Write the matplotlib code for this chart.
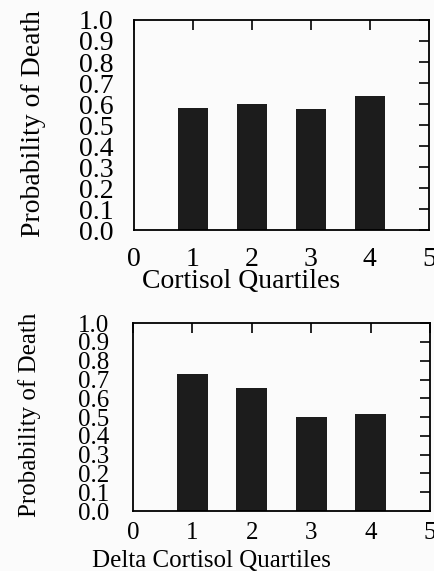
import matplotlib
matplotlib.use("Agg")
import matplotlib.pyplot as plt

plt.rcParams['font.family'] = ['Liberation Serif', 'DejaVu Serif']

# quartiles and probability of death
quartiles = [1, 2, 3, 4]
cortisol_prob = [0.58, 0.60, 0.575, 0.64]
delta_prob = [0.73, 0.655, 0.50, 0.515]

xticks = [0, 1, 2, 3, 4, 5]
yticks = [0.0, 0.1, 0.2, 0.3, 0.4, 0.5, 0.6, 0.7, 0.8, 0.9, 1.0]
ylabels = ["%.1f" % v for v in yticks]

fig = plt.figure(figsize=(4.34, 5.71), dpi=100)
fig.patch.set_facecolor('#fbfbfb')

ax1 = fig.add_axes([0.309, 0.597, 0.679, 0.368])
ax2 = fig.add_axes([0.306, 0.105, 0.685, 0.329])

def style(ax, vals, xlabel, fs, xpad, ypad, xlab_pos, ylab_pos):
    ax.set_facecolor('#fbfbfb')
    ax.bar(quartiles, vals, width=0.52, color='#1c1c1c')
    ax.set_xlim(0, 5)
    ax.set_ylim(0, 1.0)
    ax.set_xticks(xticks)
    ax.set_yticks(yticks)
    ax.set_yticklabels(ylabels)
    ax.tick_params(axis='x', top=True, bottom=False, direction='in', length=7,
                   width=1.2, labelsize=fs, pad=xpad)
    ax.tick_params(axis='y', right=True, left=False, direction='in', length=7,
                   width=1.2, labelsize=fs, pad=ypad)
    for s in ax.spines.values():
        s.set_linewidth(1.3)
    ax.set_ylabel("Probability of Death", fontsize=fs)
    ax.set_xlabel(xlabel, fontsize=fs)
    ax.xaxis.set_label_coords(*xlab_pos)
    ax.yaxis.set_label_coords(*ylab_pos)

style(ax1, cortisol_prob, "Cortisol Quartiles", 20, 12, 15,
      (0.363, -0.185), (-0.30, 0.505))
style(ax2, delta_prob, "Delta Cortisol Quartiles", 18, 8, 17,
      (0.266, -0.21), (-0.31, 0.51))

fig.savefig("out.png", dpi=100, facecolor=fig.get_facecolor())
